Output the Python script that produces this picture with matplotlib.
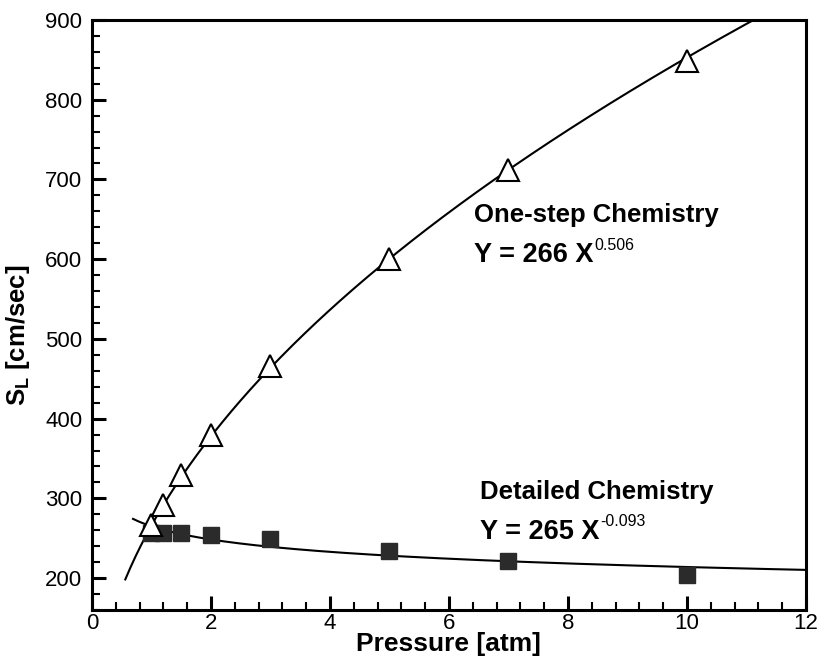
import numpy as np
import matplotlib
matplotlib.use("Agg")
import matplotlib.pyplot as plt
from matplotlib.ticker import MultipleLocator

plt.rcParams['font.family'] = ['Liberation Sans', 'DejaVu Sans']
plt.rcParams['mathtext.fontset'] = 'custom'
plt.rcParams['mathtext.rm'] = 'Liberation Sans'
plt.rcParams['mathtext.bf'] = 'Liberation Sans:bold'

# Laminar flame speed vs pressure
pressure_onestep = [1.0, 1.2, 1.5, 2.0, 3.0, 5.0, 7.0, 10.0]
speed_onestep = [266, 292, 329, 379, 466, 600, 712, 849]

pressure_detailed = [1.0, 1.2, 1.5, 2.0, 3.0, 5.0, 7.0, 10.0]
speed_detailed = [256, 257, 257, 254, 249, 234, 221, 204]

# Power-law fits  Y = a * X^b
fit_onestep = (266, 0.506)
fit_detailed = (265, -0.093)
fit_range_onestep = (0.56, 12.0)
fit_range_detailed = (0.69, 12.0)

xticks = [0, 2, 4, 6, 8, 10, 12]
yticks = [200, 300, 400, 500, 600, 700, 800, 900]

fig = plt.figure(figsize=(8.19, 6.64), dpi=100)
ax = fig.add_axes([0.1123, 0.0813, 0.8717, 0.8887])

for (a, b), (x0, x1) in ((fit_onestep, fit_range_onestep),
                         (fit_detailed, fit_range_detailed)):
    xs = np.linspace(x0, x1, 400)
    ax.plot(xs, a * xs ** b, color='black', lw=1.5, zorder=2)

ax.plot(pressure_detailed, speed_detailed, linestyle='none', marker='s',
        markersize=12, markerfacecolor='#2b2b2b', markeredgecolor='#2b2b2b',
        zorder=3)
ax.plot(pressure_onestep, speed_onestep, linestyle='none', marker='^',
        markersize=16, markerfacecolor='white', markeredgecolor='black',
        markeredgewidth=1.5, zorder=4)

ax.set_xlim(0, 12)
ax.set_ylim(160, 900)
ax.set_xticks(xticks)
ax.set_yticks(yticks)
ax.xaxis.set_minor_locator(MultipleLocator(0.4))
ax.yaxis.set_minor_locator(MultipleLocator(20))
ax.tick_params(which='major', direction='in', length=10, width=2.2,
               labelsize=16, top=False, right=False)
ax.tick_params(axis='y', which='major', pad=7)
ax.tick_params(axis='x', which='major', pad=2)
ax.tick_params(which='minor', direction='in', length=6, width=1.5,
               top=False, right=False)
for s in ax.spines.values():
    s.set_linewidth(2.2)

ax.set_xlabel('Pressure [atm]', fontsize=19, fontweight='bold', labelpad=-1)
ax.set_ylabel(r'S$_\mathbf{L}$ [cm/sec]', fontsize=18.5, fontweight='bold')
ax.yaxis.set_label_coords(-0.084, 0.466)

def label_with_power(x, y, head, coef, expo, title_y):
    ax.text(x, title_y, head, fontsize=18.5, fontweight='bold',
            va='center', ha='left')
    t = ax.text(x, y, f'Y = {coef} X', fontsize=19.5, fontweight='bold',
                va='center', ha='left')
    fig.canvas.draw()
    bb = t.get_window_extent()
    sx, sy = ax.transData.inverted().transform((bb.x1 + 1, bb.y1 - 3))
    ax.text(sx, sy, expo, fontsize=11.5, va='center', ha='left')

label_with_power(6.42, 605, 'One-step Chemistry', fit_onestep[0],
                 f'{fit_onestep[1]:.3f}', 655)
label_with_power(6.52, 258, 'Detailed Chemistry', fit_detailed[0],
                 f'{fit_detailed[1]:.3f}', 308)

fig.savefig('out.png', dpi=100)
